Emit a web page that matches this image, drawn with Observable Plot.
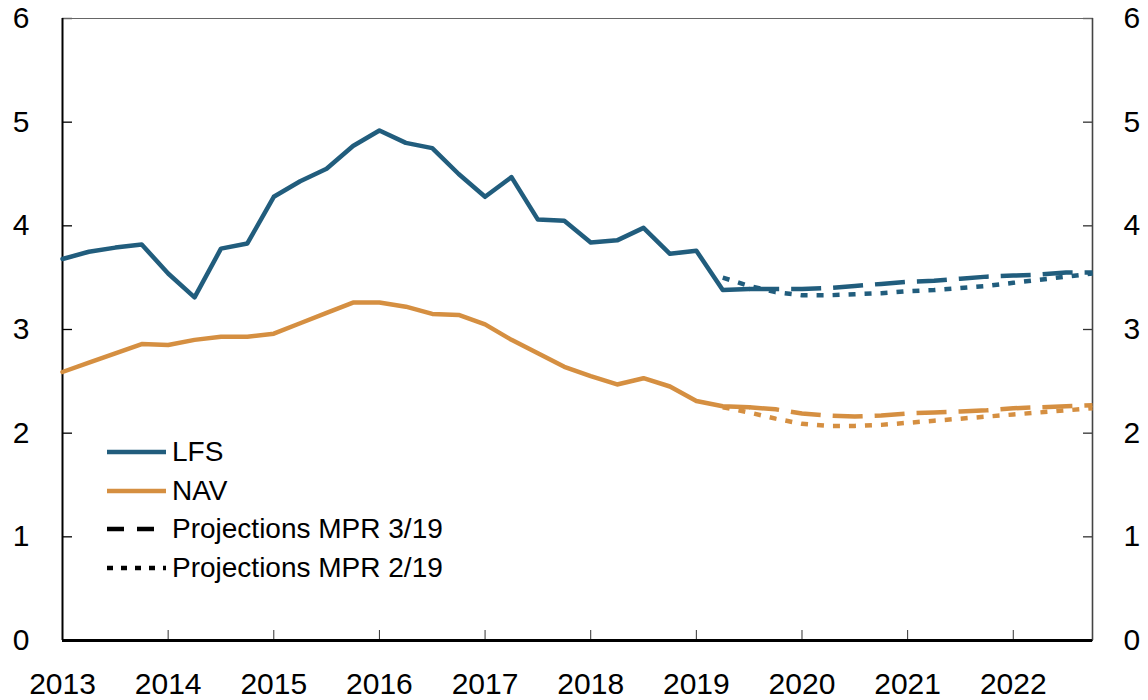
<!DOCTYPE html>
<html>
<head>
<meta charset="utf-8">
<script src="https://cdn.jsdelivr.net/npm/d3@7"></script>
<script src="https://cdn.jsdelivr.net/npm/@observablehq/plot@0.6"></script>
<style>
  html, body { margin: 0; padding: 0; background: #fff; }
  #wrap { position: relative; width: 1148px; height: 700px; font-family: "Liberation Sans", Arial, Helvetica, sans-serif; }
  #legend { position: absolute; left: 107px; top: 433px; }
  .row { display: flex; align-items: center; height: 38.5px; font-size: 28px; color: #000; }
  .row svg { margin-right: 6px; }
</style>
</head>
<body>
<div id="wrap"></div>
<script>
// Quarterly data (x = year + (quarter-1)/4)
const actualStart = 2013;          // first quarter: 2013Q1
const lfsActual = [3.68, 3.75, 3.79, 3.82, 3.54, 3.31, 3.78, 3.83, 4.28, 4.43, 4.55, 4.77,
                   4.92, 4.80, 4.75, 4.50, 4.28, 4.47, 4.06, 4.05, 3.84, 3.86, 3.98, 3.73,
                   3.76, 3.38, 3.39];
const navActual = [2.59, 2.68, 2.77, 2.86, 2.85, 2.90, 2.93, 2.93, 2.96, 3.06, 3.16, 3.26,
                   3.26, 3.22, 3.15, 3.14, 3.05, 2.90, 2.77, 2.64, 2.55, 2.47, 2.53, 2.45,
                   2.31, 2.26, 2.25];
const mpr319Start = 2019.5;        // 2019Q3
const lfsMpr319 = [3.39, 3.39, 3.39, 3.40, 3.42, 3.44, 3.46, 3.47, 3.49, 3.51, 3.52, 3.53, 3.55, 3.55];
const navMpr319 = [2.25, 2.23, 2.19, 2.17, 2.16, 2.17, 2.19, 2.20, 2.21, 2.22, 2.24, 2.25, 2.26, 2.27];
const mpr219Start = 2019.25;       // 2019Q2
const lfsMpr219 = [3.50, 3.42, 3.36, 3.33, 3.33, 3.34, 3.35, 3.37, 3.38, 3.40, 3.42, 3.45, 3.48, 3.51, 3.54];
const navMpr219 = [2.25, 2.20, 2.14, 2.09, 2.07, 2.07, 2.08, 2.10, 2.12, 2.14, 2.16, 2.18, 2.20, 2.22, 2.24];
const yearTicks = [2013, 2014, 2015, 2016, 2017, 2018, 2019, 2020, 2021, 2022];
const yTicks = [0, 1, 2, 3, 4, 5, 6];
const xDomain = [2013, 2022.75];
const yDomain = [0, 6];

const series = [
  {name: "LFS", color: "#215d7d"},
  {name: "NAV", color: "#d58f41"}
];
const styles = [
  {label: "Projections MPR 3/19", dash: "30,12"},
  {label: "Projections MPR 2/19", dash: "7,9"}
];

const toRows = (vals, start) => vals.map((v, i) => ({x: start + i / 4, y: v}));

const font = "Liberation Sans, Arial, Helvetica, sans-serif";
const chart = Plot.plot({
  width: 1148,
  height: 700,
  marginLeft: 62,
  marginRight: 56,
  marginTop: 18,
  marginBottom: 60,
  style: {fontFamily: font, background: "#fff", color: "#000"},
  x: {domain: xDomain, label: null},
  y: {domain: yDomain, label: null},
  marks: [
    Plot.axisY({anchor: "left", ticks: yTicks, tickSize: 10, insetLeft: 10, tickPadding: 33, fontSize: 30, tickFormat: d => String(d), stroke: "#000", strokeWidth: 1.3}),
    Plot.axisY({anchor: "right", ticks: yTicks, tickSize: 10, insetRight: 10, tickPadding: 31, fontSize: 30, tickFormat: d => String(d), stroke: "#333", strokeWidth: 1.3}),
    Plot.axisX({anchor: "bottom", ticks: yearTicks, tickSize: 10, insetBottom: 10, tickPadding: 32, fontSize: 30, tickFormat: d => String(d), stroke: "#333", strokeWidth: 1}),
    Plot.ruleY([yDomain[1]], {stroke: "#666", strokeWidth: 1}),
    Plot.ruleX([xDomain[0]], {stroke: "#000", strokeWidth: 2}),
    Plot.ruleX([xDomain[1]], {stroke: "#444", strokeWidth: 1.6}),
    // Projections MPR 2/19 (dotted)
    Plot.line(toRows(lfsMpr219, mpr219Start), {x: "x", y: "y", stroke: series[0].color, strokeWidth: 4.5, strokeDasharray: styles[1].dash, strokeLinecap: "butt"}),
    Plot.line(toRows(navMpr219, mpr219Start), {x: "x", y: "y", stroke: series[1].color, strokeWidth: 4.5, strokeDasharray: styles[1].dash, strokeLinecap: "butt"}),
    // Projections MPR 3/19 (dashed)
    Plot.line(toRows(lfsMpr319, mpr319Start), {x: "x", y: "y", stroke: series[0].color, strokeWidth: 4.5, strokeDasharray: styles[0].dash, strokeLinecap: "butt"}),
    Plot.line(toRows(navMpr319, mpr319Start), {x: "x", y: "y", stroke: series[1].color, strokeWidth: 4.5, strokeDasharray: styles[0].dash, strokeLinecap: "butt"}),
    // Actual
    Plot.line(toRows(navActual, actualStart), {x: "x", y: "y", stroke: series[1].color, strokeWidth: 4.5}),
    Plot.line(toRows(lfsActual, actualStart), {x: "x", y: "y", stroke: series[0].color, strokeWidth: 4.5}),
    Plot.ruleY([yDomain[0]], {stroke: "#000", strokeWidth: 3})
  ]
});
const wrap = document.getElementById("wrap");
wrap.appendChild(chart);

// Legend (HTML overlay inside the plot area)
const legend = d3.select(wrap).append("div").attr("id", "legend");
const items = [
  {label: series[0].name, color: series[0].color, dash: null},
  {label: series[1].name, color: series[1].color, dash: null},
  {label: styles[0].label, color: "#000", dash: "17,13"},
  {label: styles[1].label, color: "#000", dash: "6,8"}
];
for (const it of items) {
  const row = legend.append("div").attr("class", "row");
  const s = row.append("svg").attr("width", 59).attr("height", 10);
  s.append("line").attr("x1", 0).attr("x2", 59).attr("y1", 5).attr("y2", 5)
    .attr("stroke", it.color).attr("stroke-width", 4.5)
    .attr("stroke-dasharray", it.dash);
  row.append("span").text(it.label);
}
</script>
</body>
</html>
